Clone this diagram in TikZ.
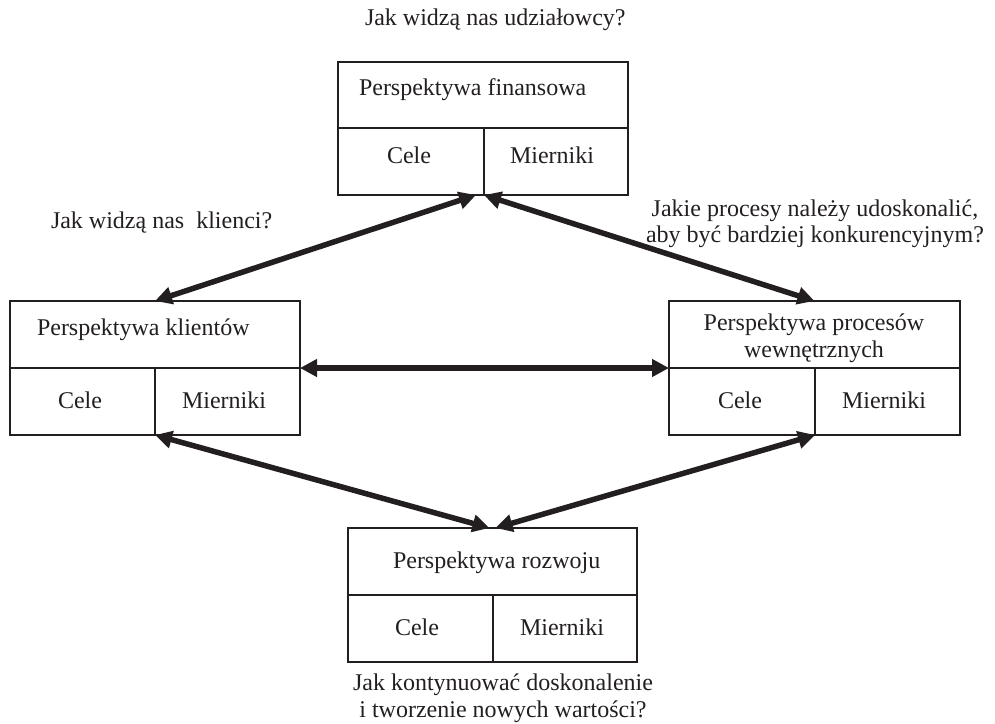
\documentclass[tikz,border=0pt]{standalone}
\usepackage{fontspec}
\setmainfont{Liberation Serif}
\usetikzlibrary{arrows.meta}
\definecolor{ink}{RGB}{35,31,32}
\begin{document}
\begin{tikzpicture}[x=1pt,y=-1pt,
  box/.style={draw=ink, line width=1.8pt, inner sep=0pt, outer sep=0pt, anchor=north west},
  lbl/.style={text=ink, font=\fontsize{24}{26.5}\selectfont, inner sep=0pt, outer sep=0pt},
  link/.style={draw=ink, line width=5.5pt, {Triangle[length=17pt,width=17pt]}-{Triangle[length=17pt,width=17pt]}}
]
\useasboundingbox (0,0) rectangle (995,723);
% --- top box (finansowa)
\node[box, minimum width=290, minimum height=66] (finT) at (338,62) {};
\node[box, minimum width=146, minimum height=67] (finC) at (338,128) {};
\node[box, minimum width=144, minimum height=67] (finM) at (484,128) {};
\node[lbl, anchor=base west] (finTt) at (359,95) {Perspektywa finansowa};
\node[lbl, anchor=base] (finCt) at (409,163) {Cele};
\node[lbl, anchor=base] (finMt) at (552,163) {Mierniki};
% --- left box (klientow)
\node[box, minimum width=290, minimum height=67] (kliT) at (10,301) {};
\node[box, minimum width=145, minimum height=67] (kliC) at (10,368) {};
\node[box, minimum width=145, minimum height=67] (kliM) at (155,368) {};
\node[lbl, anchor=base west] (kliTt) at (37,335) {Perspektywa klientów};
\node[lbl, anchor=base] (kliCt) at (80,408) {Cele};
\node[lbl, anchor=base] (kliMt) at (224,408) {Mierniki};
% --- right box (procesow)
\node[box, minimum width=291, minimum height=67] (proT) at (669,301) {};
\node[box, minimum width=146, minimum height=67] (proC) at (669,368) {};
\node[box, minimum width=145, minimum height=67] (proM) at (815,368) {};
\node[lbl, anchor=base] (proTt) at (814,330) {Perspektywa procesów};
\node[lbl, anchor=base] (proTu) at (814,357) {wewnętrznych};
\node[lbl, anchor=base] (proCt) at (740,408) {Cele};
\node[lbl, anchor=base] (proMt) at (884,408) {Mierniki};
% --- bottom box (rozwoju)
\node[box, minimum width=289, minimum height=67] (rozT) at (348,528) {};
\node[box, minimum width=145, minimum height=67] (rozC) at (348,595) {};
\node[box, minimum width=144, minimum height=67] (rozM) at (493,595) {};
\node[lbl, anchor=base west] (rozTt) at (393,568) {Perspektywa rozwoju};
\node[lbl, anchor=base] (rozCt) at (417,635) {Cele};
\node[lbl, anchor=base] (rozMt) at (562,635) {Mierniki};
% --- questions
\node[lbl, anchor=base west] (q1) at (365,25) {Jak widzą nas udziałowcy?};
\node[lbl, anchor=base west] (q2) at (51,228) {Jak widzą nas~ klienci?};
\node[lbl, anchor=base] (q3a) at (815,216) {Jakie procesy należy udoskonalić,};
\node[lbl, anchor=base] (q3b) at (815,242) {aby być bardziej konkurencyjnym?};
\node[lbl, anchor=base] (q4a) at (503,690) {Jak kontynuować doskonalenie};
\node[lbl, anchor=base] (q4b) at (503,717) {i tworzenie nowych wartości?};
% --- connectors
\draw[link] (kliT.north) -- ([xshift=-8pt]finC.south east);
\draw[link] (proT.north) -- (finC.south east);
\draw[link] (kliT.south east) -- (proT.south west);
\draw[link] (kliC.south east) -- ([xshift=-3pt]rozT.north);
\draw[link] (proC.south east) -- ([xshift=3pt]rozT.north);
\end{tikzpicture}
\end{document}
